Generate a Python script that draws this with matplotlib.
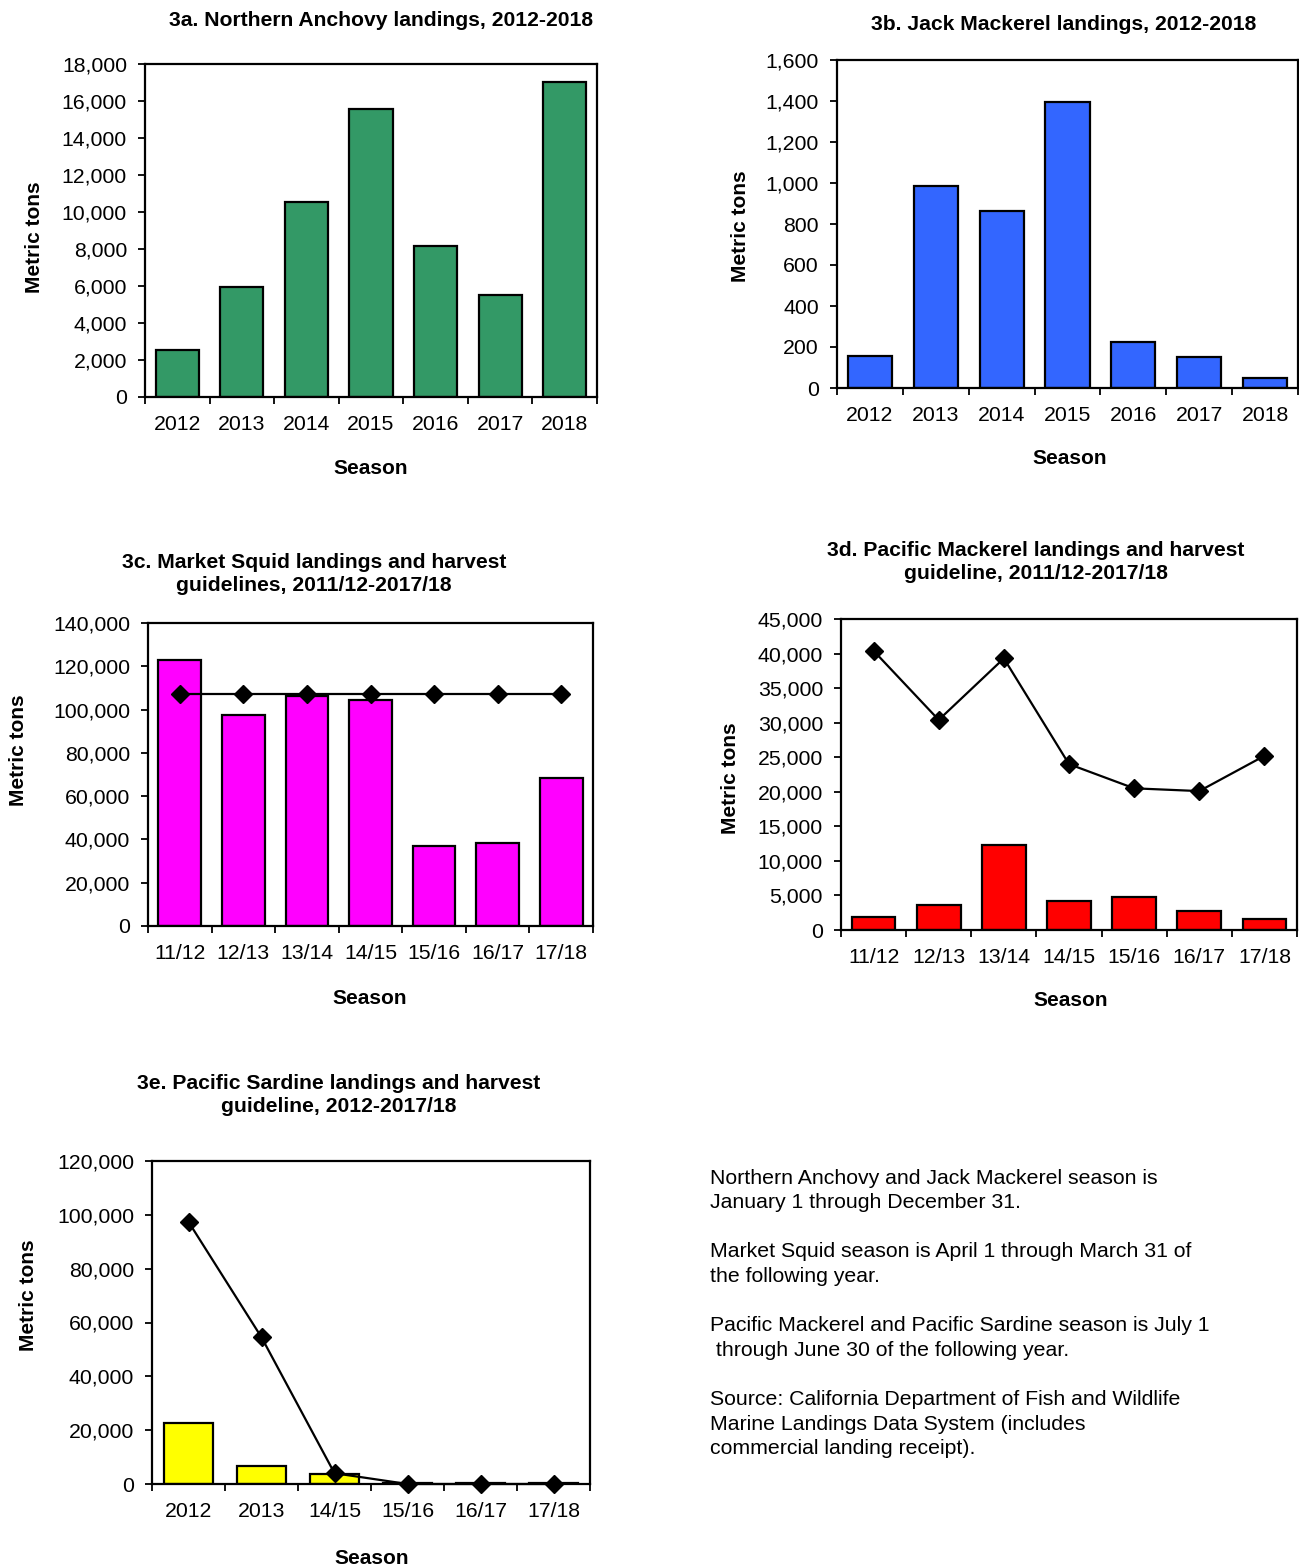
import numpy as np
import matplotlib
matplotlib.use("Agg")
import matplotlib.pyplot as plt
from matplotlib.ticker import FuncFormatter, FixedLocator

plt.rcParams["font.family"] = ["Liberation Sans", "DejaVu Sans"]

W, H = 1299, 1568

# --- data (metric tons) ---
anchovy_years = ["2012", "2013", "2014", "2015", "2016", "2017", "2018"]
anchovy_landings = [2530, 5920, 10550, 15570, 8150, 5500, 17010]

jack_years = ["2012", "2013", "2014", "2015", "2016", "2017", "2018"]
jack_landings = [157, 987, 864, 1394, 226, 151, 50]

squid_seasons = ["11/12", "12/13", "13/14", "14/15", "15/16", "16/17", "17/18"]
squid_landings = [123000, 97450, 106400, 104500, 37000, 38250, 68300]
squid_hg = [107048, 107048, 107048, 107048, 107048, 107048, 107048]

pmack_seasons = ["11/12", "12/13", "13/14", "14/15", "15/16", "16/17", "17/18"]
pmack_landings = [1840, 3620, 12300, 4200, 4740, 2750, 1640]
pmack_hg = [40400, 30400, 39300, 24000, 20500, 20100, 25200]

sardine_seasons = ["2012", "2013", "14/15", "15/16", "16/17", "17/18"]
sardine_landings = [22500, 6700, 3700, 500, 400, 450]
sardine_hg = [97400, 54500, 4000, 0, 0, 0]

notes = [
    "Northern Anchovy and Jack Mackerel season is",
    "January 1 through December 31.",
    "",
    "Market Squid season is April 1 through March 31 of",
    "the following year.",
    "",
    "Pacific Mackerel and Pacific Sardine season is July 1",
    " through June 30 of the following year.",
    "",
    "Source: California Department of Fish and Wildlife",
    "Marine Landings Data System (includes",
    "commercial landing receipt).",
]

fig = plt.figure(figsize=(W / 100, H / 100), dpi=100)


def px_axes(left, top, right, bottom):
    return fig.add_axes([left / W, 1 - bottom / H, (right - left) / W, (bottom - top) / H])


def fig_text(x, y, s, **kw):
    fig.text(x / W, 1 - y / H, s, **kw)


comma = FuncFormatter(lambda v, p: f"{int(v):,}")


def bar_panel(box, cats, vals, color, ymax, ystep, hg=None):
    ax = px_axes(*box)
    x = np.arange(len(cats))
    ax.bar(x, vals, width=0.67, color=color, edgecolor="black", linewidth=1.6, zorder=2)
    if hg is not None:
        ax.plot(x, hg, color="black", linewidth=1.6, marker="D", markersize=9,
                zorder=3, clip_on=False)
    ax.set_xlim(-0.5, len(cats) - 0.5)
    ax.set_ylim(0, ymax)
    ax.set_yticks(np.arange(0, ymax + 1, ystep))
    ax.yaxis.set_major_formatter(comma)
    ax.set_xticks(x)
    ax.set_xticklabels(cats)
    ax.xaxis.set_minor_locator(FixedLocator(np.arange(len(cats) + 1) - 0.5))
    ax.tick_params(axis="x", which="major", length=0, pad=13, labelsize=15.3)
    ax.tick_params(axis="x", which="minor", length=5, width=1.3, direction="out")
    ax.tick_params(axis="y", length=5, width=1.3, direction="out", pad=8, labelsize=15.3)
    for s in ax.spines.values():
        s.set_linewidth(1.6)
    return ax


bar_panel((145, 64, 597, 397), anchovy_years, anchovy_landings, "#339966", 18000, 2000)
bar_panel((837, 60, 1298, 388), jack_years, jack_landings, "#3366FF", 1600, 200)
bar_panel((148, 623, 593, 926), squid_seasons, squid_landings, "#FF00FF", 140000, 20000, squid_hg)
bar_panel((841, 619, 1297, 930), pmack_seasons, pmack_landings, "#FF0000", 45000, 5000, pmack_hg)
bar_panel((152, 1161, 590, 1484), sardine_seasons, sardine_landings, "#FFFF00", 120000, 20000, sardine_hg)

tkw = dict(fontsize=15.2, fontweight="bold", ha="center", va="center")
fig_text(381, 20, "3a. Northern Anchovy landings, 2012-2018", **tkw)
fig_text(1064, 24, "3b. Jack Mackerel landings, 2012-2018", **tkw)
fig_text(314, 574, "3c. Market Squid landings and harvest\nguidelines, 2011/12-2017/18",
         linespacing=1.22, **tkw)
fig_text(1036, 562, "3d. Pacific Mackerel landings and harvest\nguideline, 2011/12-2017/18",
         linespacing=1.22, **tkw)
fig_text(339, 1095, "3e. Pacific Sardine landings and harvest\nguideline, 2012-2017/18",
         linespacing=1.22, **tkw)

lkw = dict(tkw, fontsize=15)
for x, y in [(371, 468), (1070, 459), (370, 998), (1071, 1001), (372, 1558)]:
    fig_text(x, y, "Season", **lkw)
for x, y in [(35, 237), (740, 226), (19, 750), (730, 778), (29, 1295)]:
    fig_text(x, y, "Metric tons", rotation=90, **lkw)

for i, line in enumerate(notes):
    fig_text(710, 1178 + i * 24.6, line, fontsize=15.3, ha="left", va="center")

fig.savefig("out.png", dpi=100)
